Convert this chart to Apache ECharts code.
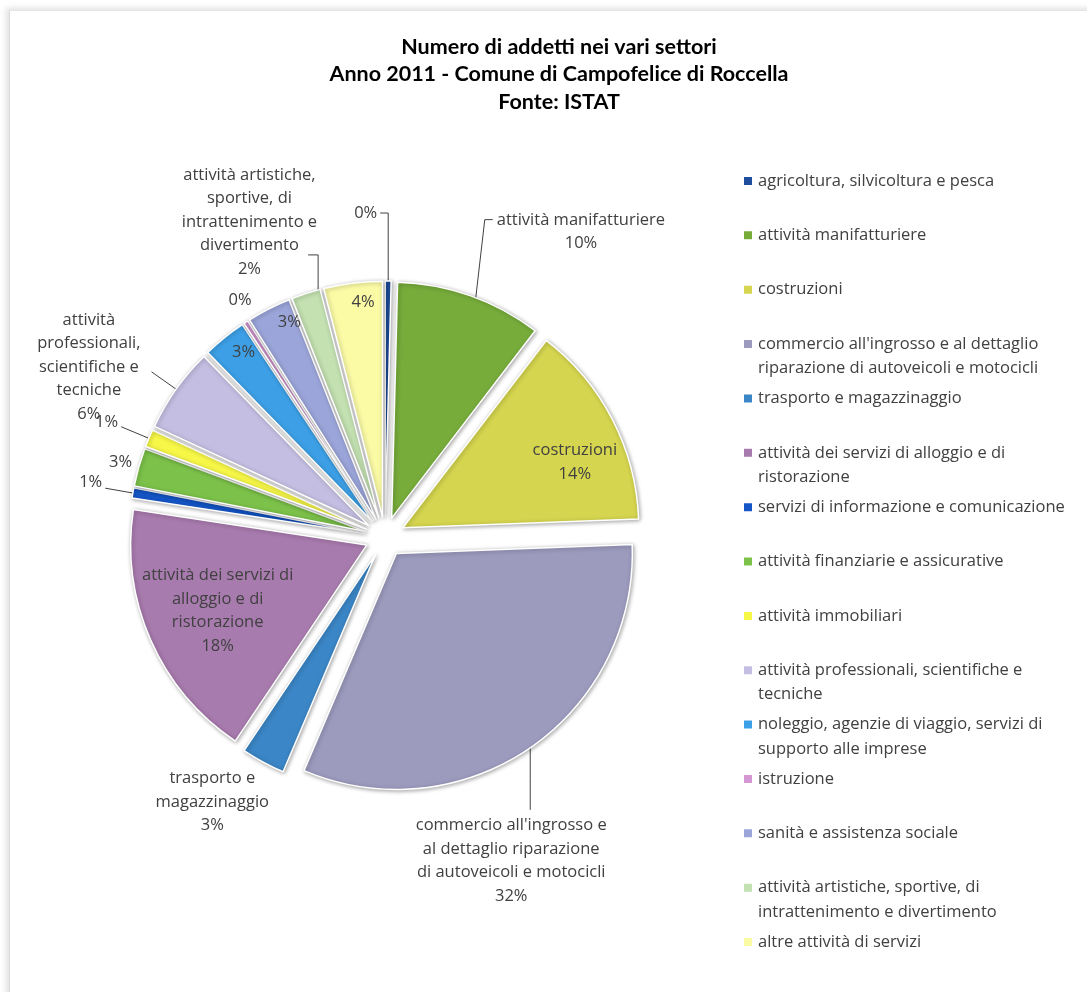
<!DOCTYPE html>
<html><head><meta charset="utf-8">
<script src="https://cdn.jsdelivr.net/npm/echarts@6/dist/echarts.min.js"></script>
<style>
html,body{margin:0;padding:0;background:#fff;overflow:hidden;}
#frame{position:absolute;left:9px;top:10px;width:1100px;height:1010px;border-left:1px solid #dcdcdc;border-top:1px solid #e6e6e6;box-shadow:-3px -2px 6px rgba(0,0,0,0.12);background:#fff;}
#chart{position:absolute;left:0;top:0;width:1087px;height:992px;}
</style></head><body>
<div id="frame"></div><div id="chart"></div>
<script>
// ---------------- data ----------------
const titleLines = [
  'Numero di addetti nei vari settori',
  'Anno 2011 - Comune di Campofelice di Roccella',
  'Fonte: ISTAT'
];
const sectors = [
  'agricoltura, silvicoltura e pesca',
  'attività manifatturiere',
  'costruzioni',
  "commercio all'ingrosso e al dettaglio riparazione di autoveicoli e motocicli",
  'trasporto e magazzinaggio',
  'attività dei servizi di alloggio e di ristorazione',
  'servizi di informazione e comunicazione',
  'attività finanziarie e assicurative',
  'attività immobiliari',
  'attività professionali, scientifiche e tecniche',
  'noleggio, agenzie di viaggio, servizi di supporto alle imprese',
  'istruzione',
  'sanità e assistenza sociale',
  'attività artistiche, sportive, di intrattenimento e divertimento',
  'altre attività di servizi'
];
// share of employees (%)
const shares = [0.4, 10, 14, 32, 3, 18, 0.7, 2.6, 1.2, 5.8, 3, 0.3, 3, 2, 4];
// legend text as wrapped in the picture
const legendText = [
  'agricoltura, silvicoltura e pesca',
  'attività manifatturiere',
  'costruzioni',
  "commercio all'ingrosso e al dettaglio\nriparazione di autoveicoli e motocicli",
  'trasporto e magazzinaggio',
  'attività dei servizi di alloggio e di\nristorazione',
  'servizi di informazione e comunicazione',
  'attività finanziarie e assicurative',
  'attività immobiliari',
  'attività professionali, scientifiche e\ntecniche',
  'noleggio, agenzie di viaggio, servizi di\nsupporto alle imprese',
  'istruzione',
  'sanità e assistenza sociale',
  'attività artistiche, sportive, di\nintrattenimento e divertimento',
  'altre attività di servizi'
];
// category name shown in the data label (empty = percentage only)
const labelText = [
  '', 'attività manifatturiere', 'costruzioni',
  "commercio all'ingrosso e\nal dettaglio riparazione\ndi autoveicoli e motocicli",
  'trasporto e\nmagazzinaggio',
  'attività dei servizi di\nalloggio e di\nristorazione',
  '', '', '',
  'attività\nprofessionali,\nscientifiche e\ntecniche',
  '', '', '',
  'attività artistiche,\nsportive, di\nintrattenimento e\ndivertimento',
  ''
];

// ---------------- style / layout ----------------
const colors = ['#1F4E9E','#77AC3B','#D5D54F','#9C9BBE','#3B86C6','#A87BAE','#1456C8','#7CC24A',
                '#F7F748','#C4BFE2','#3DA0E6','#D597D3','#9BA5D9','#C3E1B1','#FBFBA6'];
const FONT = 'Open Sans';
const FS = 16.5;
const CX = 385, CY = 537, R = 236, OFF = 20;
const LH = 23.5;
// label placement rules (how Excel placed each data label)
const place = [
  {type:'up', L:68, L2:-8, ty:0},
  {type:'up', af:0.54, L:78, lean:9, L2:8, ty:12},
  {type:'radial', af:0.63, d:0.78},
  {type:'down', af:0.5, L:62, tx:-19},
  {type:'radial', af:0.96, d:1.256},
  {type:'radial', d:0.69},
  {type:'line', L:28, ty:-6},
  {type:'radial', d:1.08},
  {type:'line', L:30, ty:-4},
  {type:'line', L:30, tx:-8, ty:-5},
  {type:'radial', af:0.64, d:0.90},
  {type:'radial', af:1.9, d:1.09},
  {type:'radial', af:0.8, d:0.91},
  {type:'up', af:0.93, L:35, L2:-10, tx:12, ty:-33},
  {type:'radial', af:0.64, d:0.915}
];

const total = shares.reduce((a,b)=>a+b,0);
const startA = [], endA = [];
{ let acc = 0; shares.forEach((v,i)=>{ startA.push(acc/total*360); acc += v; endA.push(acc/total*360); }); }
const dir = a => { const t = a*Math.PI/180; return [Math.sin(t), -Math.cos(t)]; };
const apex = i => { const d = dir((startA[i]+endA[i])/2); return [CX + OFF*d[0], CY + OFF*d[1]]; };

function layoutLabel(i) {
  const s = place[i];
  const [ax, ay] = apex(i);
  const aa = startA[i] + (s.af != null ? s.af : 0.5)*(endA[i]-startA[i]);
  const da = dir(aa);
  if (s.type === 'radial') {
    return {x: ax + s.d*R*da[0], y: ay + s.d*R*da[1], align:'center', verticalAlign:'middle'};
  }
  const px = ax + R*da[0], py = ay + R*da[1];               // point on the arc
  if (s.type === 'up') {
    const bx = px + (s.lean||0), ey = py - s.L, ex = bx + s.L2;
    const left = s.L2 < 0;
    return {x: ex + (left ? -3 : 4) + (s.tx||0), y: ey + (s.ty||0), align: left ? 'right':'left', verticalAlign:'middle',
            labelLinePoints: [[px,py],[bx,ey],[ex,ey]]};
  }
  if (s.type === 'down') {
    const ey = py + s.L;
    return {x: px + (s.tx||0), y: ey + 4, align:'center', verticalAlign:'top', labelLinePoints: [[px,py],[px,(py+ey)/2],[px,ey]]};
  }
  const ex = px + s.L*da[0], ey = py + s.L*da[1];
  const left = da[0] < 0;
  return {x: ex + (left ? -3 : 3) + (s.tx||0), y: ey + (s.ty||0), align: left ? 'right':'left', verticalAlign:'middle',
          labelLinePoints: [[px,py],[(px+ex)/2,(py+ey)/2],[ex,ey]]};
}

const hasLine = i => place[i].type !== 'radial';
const blank = {color:'rgba(0,0,0,0)', borderWidth:0, shadowBlur:0, shadowColor:'rgba(0,0,0,0)'};

// one pie per slice so each slice can be pulled out from the centre (exploded pie)
const series = sectors.map((n,i)=>({
  type: 'pie', center: apex(i), radius: [0, R],
  startAngle: 90 - startA[i], clockwise: true, percentPrecision: 0,
  avoidLabelOverlap: false, silent: true, z: 2,
  itemStyle: {borderColor:'#fff', borderWidth:1.5, shadowBlur:4, shadowColor:'rgba(0,0,0,0.35)', shadowOffsetX:1, shadowOffsetY:1},
  label: {
    show: true, position: 'outside',
    formatter: p => {
      const lines = labelText[i] ? labelText[i].split('\n') : [];
      lines.push(Math.round(p.percent) + '%');
      return lines.map(l => '{c|' + l + '}').join('\n');
    },
    rich: {c: {align:'center', fontFamily: FONT, fontSize: FS, color:'#404040', lineHeight: LH}}
  },
  labelLine: {show: hasLine(i), lineStyle: {color:'#404040', width:1}},
  labelLayout: p => p.dataIndex === 0 ? layoutLabel(i) : {},
  data: [
    {name: n, value: shares[i], itemStyle: {color: colors[i]}},
    {name: '\u200b' + i, value: total - shares[i], itemStyle: blank, label: {show:false}, labelLine: {show:false}}
  ]
}));

const LGH = 24.5;
const legends = sectors.map((n,i)=>{
  const two = legendText[i].indexOf('\n') >= 0;
  const iconCenter = 181 + i*54.36;
  return {
    data: [n], orient:'vertical', left: 742, top: iconCenter - (two ? 1.5*LGH : LGH/2), padding: 0,
    icon:'rect', itemWidth:10, itemHeight:10, itemGap:0, selectedMode:false,
    formatter: name => (two ? '\n' : '') + legendText[sectors.indexOf(name)],
    textStyle: {fontFamily: FONT, fontSize: FS, color:'#404040', lineHeight: LGH}
  };
});

const chart = echarts.init(document.getElementById('chart'), null, {renderer:'canvas'});
chart.setOption({
  animation: false,
  backgroundColor: 'transparent',
  title: {
    text: titleLines.join('\n'), left: 554, top: 28, textAlign: 'center',
    textStyle: {fontFamily: 'Lato', fontSize: 21.5, fontWeight: 'bold', color: '#000', lineHeight: 27.5}
  },
  legend: legends,
  series: series
});
</script>
</body></html>
